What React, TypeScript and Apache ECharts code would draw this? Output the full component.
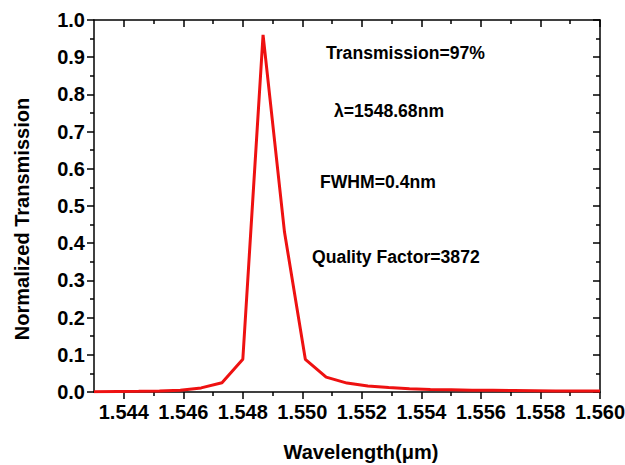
import React, { useEffect, useRef } from "react";
import * as echarts from "echarts";

const wavelength = [
  1.543, 1.5438, 1.5445, 1.5452, 1.5459, 1.5466, 1.5473, 1.548, 1.54868, 1.5494,
  1.5501, 1.5508, 1.5515, 1.5522, 1.5529, 1.5536, 1.5543, 1.555, 1.5557, 1.5564,
  1.5571, 1.5578, 1.5585, 1.5592, 1.56,
];
const transmission = [
  0.001, 0.0015, 0.002, 0.003, 0.005, 0.011, 0.025, 0.088, 0.96, 0.43,
  0.088, 0.04, 0.024, 0.016, 0.012, 0.009, 0.007, 0.006, 0.005, 0.0045,
  0.004, 0.0035, 0.003, 0.003, 0.003,
];
const xMajorTicks = [1.544, 1.546, 1.548, 1.55, 1.552, 1.554, 1.556, 1.558, 1.56];
const xMinorTicks = [1.545, 1.547, 1.549, 1.551, 1.553, 1.555, 1.557, 1.559];
const annotations = [
  { text: "Transmission=97%", x: 326, y: 54 },
  { text: "λ=1548.68nm", x: 334, y: 112 },
  { text: "FWHM=0.4nm", x: 320, y: 183 },
  { text: "Quality Factor=3872", x: 312, y: 258 },
];

const FONT = 'Arial, "Liberation Sans", sans-serif';
const BLACK = "#000";

export default function App() {
  const ref = useRef<HTMLDivElement>(null);
  useEffect(() => {
    if (!ref.current) return;
    const chart = echarts.init(ref.current, null, { renderer: "svg" });
    const line = { show: true, lineStyle: { color: BLACK, width: 1.5 } };
    const baseX = { type: "value", min: 1.543, max: 1.56, splitLine: { show: false } };
    chart.setOption({
      animation: false,
      backgroundColor: "#fff",
      grid: { left: 94, right: 25, top: 20, bottom: 73, containLabel: false, outerBoundsMode: "none" },
      xAxis: [
        {
          ...baseX,
          position: "bottom",
          name: "Wavelength(μm)",
          nameLocation: "middle",
          nameGap: 50,
          nameTextStyle: {
            fontFamily: FONT, fontWeight: "bold", fontSize: 20, color: BLACK,
            padding: [0, 0, 0, 28],
          },
          axisLine: line,
          axisTick: { show: true, customValues: xMajorTicks, length: 7, lineStyle: { color: BLACK, width: 1.5 } },
          axisLabel: {
            customValues: xMajorTicks,
            formatter: (v: number) => v.toFixed(3),
            fontFamily: FONT, fontWeight: "bold", fontSize: 20, color: BLACK, margin: 10,
          },
        },
        {
          ...baseX,
          position: "bottom",
          axisLine: { show: false },
          axisTick: { show: true, customValues: xMinorTicks, length: 4, lineStyle: { color: BLACK, width: 1.5 } },
          axisLabel: { show: false },
        },
        {
          ...baseX,
          position: "top",
          axisLine: line,
          axisTick: { show: true, inside: true, customValues: xMajorTicks, length: 7, lineStyle: { color: BLACK, width: 1.5 } },
          axisLabel: { show: false },
        },
        {
          ...baseX,
          position: "top",
          axisLine: { show: false },
          axisTick: { show: true, inside: true, customValues: xMinorTicks, length: 4, lineStyle: { color: BLACK, width: 1.5 } },
          axisLabel: { show: false },
        },
      ],
      yAxis: [
        {
          type: "value",
          min: 0,
          max: 1,
          interval: 0.1,
          position: "left",
          name: "Normalized Transmission",
          nameLocation: "middle",
          nameGap: 62,
          nameTextStyle: {
            fontFamily: FONT, fontWeight: "bold", fontSize: 20, color: BLACK,
            padding: [0, 26, 0, 0],
          },
          axisLine: line,
          axisTick: { show: true, length: 7, lineStyle: { color: BLACK, width: 1.5 } },
          minorTick: { show: true, splitNumber: 2, length: 4, lineStyle: { color: BLACK, width: 1.5 } },
          splitLine: { show: false },
          axisLabel: {
            formatter: (v: number) => v.toFixed(1),
            fontFamily: FONT, fontWeight: "bold", fontSize: 20, color: BLACK, margin: 9,
          },
        },
        {
          type: "value",
          min: 0,
          max: 1,
          interval: 0.1,
          position: "right",
          axisLine: line,
          axisTick: { show: true, inside: true, length: 7, lineStyle: { color: BLACK, width: 1.5 } },
          minorTick: { show: true, splitNumber: 2, length: 4, lineStyle: { color: BLACK, width: 1.5 } },
          splitLine: { show: false },
          axisLabel: { show: false },
        },
      ],
      graphic: annotations.map((a) => ({
        type: "text",
        left: a.x,
        top: a.y - 10,
        style: { text: a.text, fontFamily: FONT, fontWeight: "bold", fontSize: 17.6, fill: BLACK },
      })),
      series: [
        {
          type: "line",
          xAxisIndex: 0,
          yAxisIndex: 0,
          data: wavelength.map((w, i) => [w, transmission[i]]),
          showSymbol: false,
          symbol: "none",
          lineStyle: { color: "#ee1111", width: 3 },
          z: 1,
        },
      ],
    });
    return () => chart.dispose();
  }, []);
  return (
    <div
      ref={ref}
      style={{ position: "absolute", left: 0, top: 0, width: 625, height: 465 }}
    />
  );
}
